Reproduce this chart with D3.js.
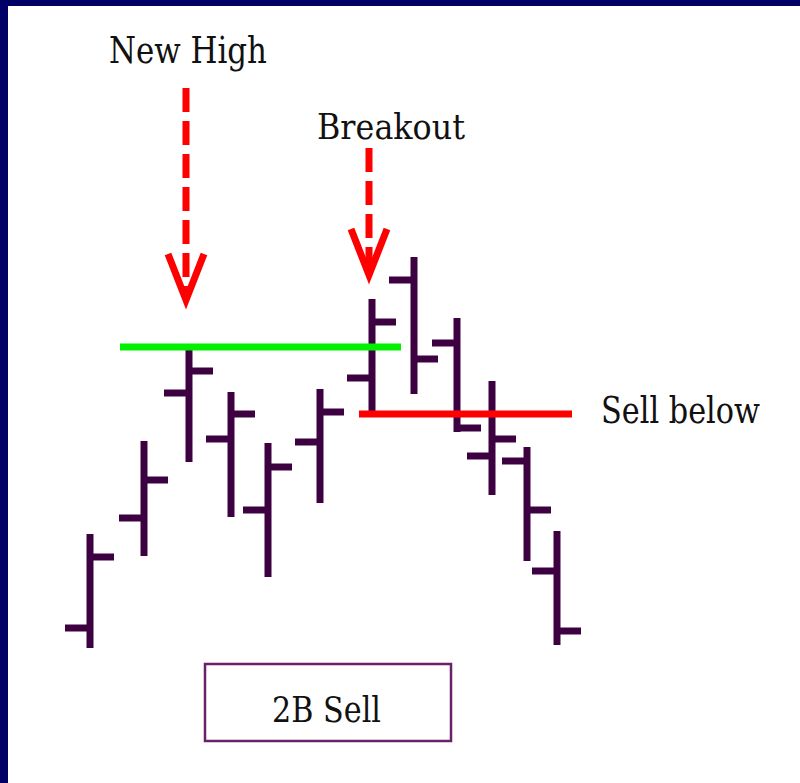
<!DOCTYPE html>
<html>
<head>
<meta charset="utf-8">
<script src="https://cdn.jsdelivr.net/npm/d3@7"></script>
<style>
  body { margin: 0; background: #fff; }
</style>
</head>
<body>
<div id="my_dataviz"></div>
<script>
// bar "time" positions and prices (price grows upwards)
var barTime  = [40, 94, 139, 181, 218, 270, 322, 364, 407, 442, 477, 507];
var barOpen  = [72, 182, 307, 261, 190, 258, 322, 420, 357, 244, 239, 129];
var barHigh  = [166, 259, 350, 308, 257, 311, 401, 443, 382, 319, 253, 169];
var barLow   = [52, 144, 238, 183, 123, 197, 288, 306, 268, 205, 139, 55];
var barClose = [143, 220, 329, 286, 233, 288, 378, 341, 272, 261, 190, 69];

// reference levels: [start time, end time, price]
var highLevel = [70, 351, 353];
var sellLevel = [309, 522, 286];

// arrows: time, price at top of the dashes, price at the tip
var arrowNames = ["New High", "Breakout"];
var arrowTime  = [136, 319];
var arrowTop   = [612, 552];
var arrowTip   = [397, 422];

var labelSell = "Sell below";
var labelBox = "2B Sell";

var width = 800, height = 783;

var svg = d3.select("#my_dataviz")
    .append("svg")
    .attr("width", width)
    .attr("height", height);

// white page with the navy frame on the left and the top
svg.append("rect")
    .attr("width", width).attr("height", height)
    .attr("fill", "#fff");
svg.append("rect")
    .attr("x", 0).attr("y", 0)
    .attr("width", 8).attr("height", height)
    .attr("fill", "#000066");
svg.append("rect")
    .attr("x", 0).attr("y", 0)
    .attr("width", width).attr("height", 6)
    .attr("fill", "#000066");

var x = d3.scaleLinear()
    .domain([0, 500])
    .range([50, 550]);

var y = d3.scaleLinear()
    .domain([0, 500])
    .range([700, 200]);

var bars = barTime.map(function (t, i) {
    return { t: t, open: barOpen[i], high: barHigh[i], low: barLow[i], close: barClose[i] };
});

var barColor = "#3d0040";
var tick = 25;

var g = svg.append("g");

// high-low line
g.selectAll("hl")
    .data(bars)
    .enter()
    .append("line")
    .attr("x1", function (d) { return x(d.t) })
    .attr("x2", function (d) { return x(d.t) })
    .attr("y1", function (d) { return y(d.high) })
    .attr("y2", function (d) { return y(d.low) })
    .attr("stroke", barColor)
    .attr("stroke-width", 7);

// open tick on the left
g.selectAll("op")
    .data(bars)
    .enter()
    .append("line")
    .attr("x1", function (d) { return x(d.t) - tick })
    .attr("x2", function (d) { return x(d.t) })
    .attr("y1", function (d) { return y(d.open) })
    .attr("y2", function (d) { return y(d.open) })
    .attr("stroke", barColor)
    .attr("stroke-width", 7);

// close tick on the right
g.selectAll("cl")
    .data(bars)
    .enter()
    .append("line")
    .attr("x1", function (d) { return x(d.t) })
    .attr("x2", function (d) { return x(d.t) + tick - 1 })
    .attr("y1", function (d) { return y(d.close) })
    .attr("y2", function (d) { return y(d.close) })
    .attr("stroke", barColor)
    .attr("stroke-width", 7);

// green level (old high) and red level (sell below)
svg.append("line")
    .attr("x1", x(highLevel[0])).attr("x2", x(highLevel[1]))
    .attr("y1", y(highLevel[2])).attr("y2", y(highLevel[2]))
    .attr("stroke", "#00f000")
    .attr("stroke-width", 7);

svg.append("line")
    .attr("x1", x(sellLevel[0])).attr("x2", x(sellLevel[1]))
    .attr("y1", y(sellLevel[2])).attr("y2", y(sellLevel[2]))
    .attr("stroke", "#ff0000")
    .attr("stroke-width", 7);

// dashed red arrows with a chevron head
var arrows = arrowNames.map(function (n, i) {
    return { name: n, t: arrowTime[i], top: arrowTop[i], tip: arrowTip[i] };
});

var ag = svg.selectAll("arrows")
    .data(arrows)
    .enter()
    .append("g");

ag.append("line")
    .attr("x1", function (d) { return x(d.t) })
    .attr("x2", function (d) { return x(d.t) })
    .attr("y1", function (d) { return y(d.top) })
    .attr("y2", function (d) { return y(d.tip) - 8 })
    .attr("stroke", "#ff0000")
    .attr("stroke-width", 7)
    .attr("stroke-dasharray", "24,9");

ag.append("path")
    .attr("d", function (d) {
        var cx = x(d.t), ty = y(d.tip) - 3;
        return "M" + (cx - 18) + "," + (ty - 46) + "L" + cx + "," + ty + "L" + (cx + 18) + "," + (ty - 46);
    })
    .attr("fill", "none")
    .attr("stroke", "#ff0000")
    .attr("stroke-width", 7)
    .attr("stroke-linejoin", "miter");

// labels
var font = "'DejaVu Serif', serif";

svg.append("text")
    .attr("x", 109).attr("y", 63)
    .attr("textLength", 158).attr("lengthAdjust", "spacingAndGlyphs")
    .style("font-family", font).style("font-size", "37px")
    .style("fill", "#111")
    .text(arrowNames[0]);

svg.append("text")
    .attr("x", 317).attr("y", 139)
    .attr("textLength", 148).attr("lengthAdjust", "spacingAndGlyphs")
    .style("font-family", font).style("font-size", "36px")
    .style("fill", "#111")
    .text(arrowNames[1]);

svg.append("text")
    .attr("x", 601).attr("y", 423)
    .attr("textLength", 159).attr("lengthAdjust", "spacingAndGlyphs")
    .style("font-family", font).style("font-size", "37px")
    .style("fill", "#111")
    .text(labelSell);

// boxed title
svg.append("rect")
    .attr("x", 205).attr("y", 664)
    .attr("width", 246).attr("height", 77)
    .attr("fill", "none")
    .attr("stroke", "#6a206a")
    .attr("stroke-width", 2.5);

svg.append("text")
    .attr("x", 272).attr("y", 722)
    .attr("textLength", 109).attr("lengthAdjust", "spacingAndGlyphs")
    .style("font-family", font).style("font-size", "35px")
    .style("fill", "#111")
    .text(labelBox);
</script>
</body>
</html>
